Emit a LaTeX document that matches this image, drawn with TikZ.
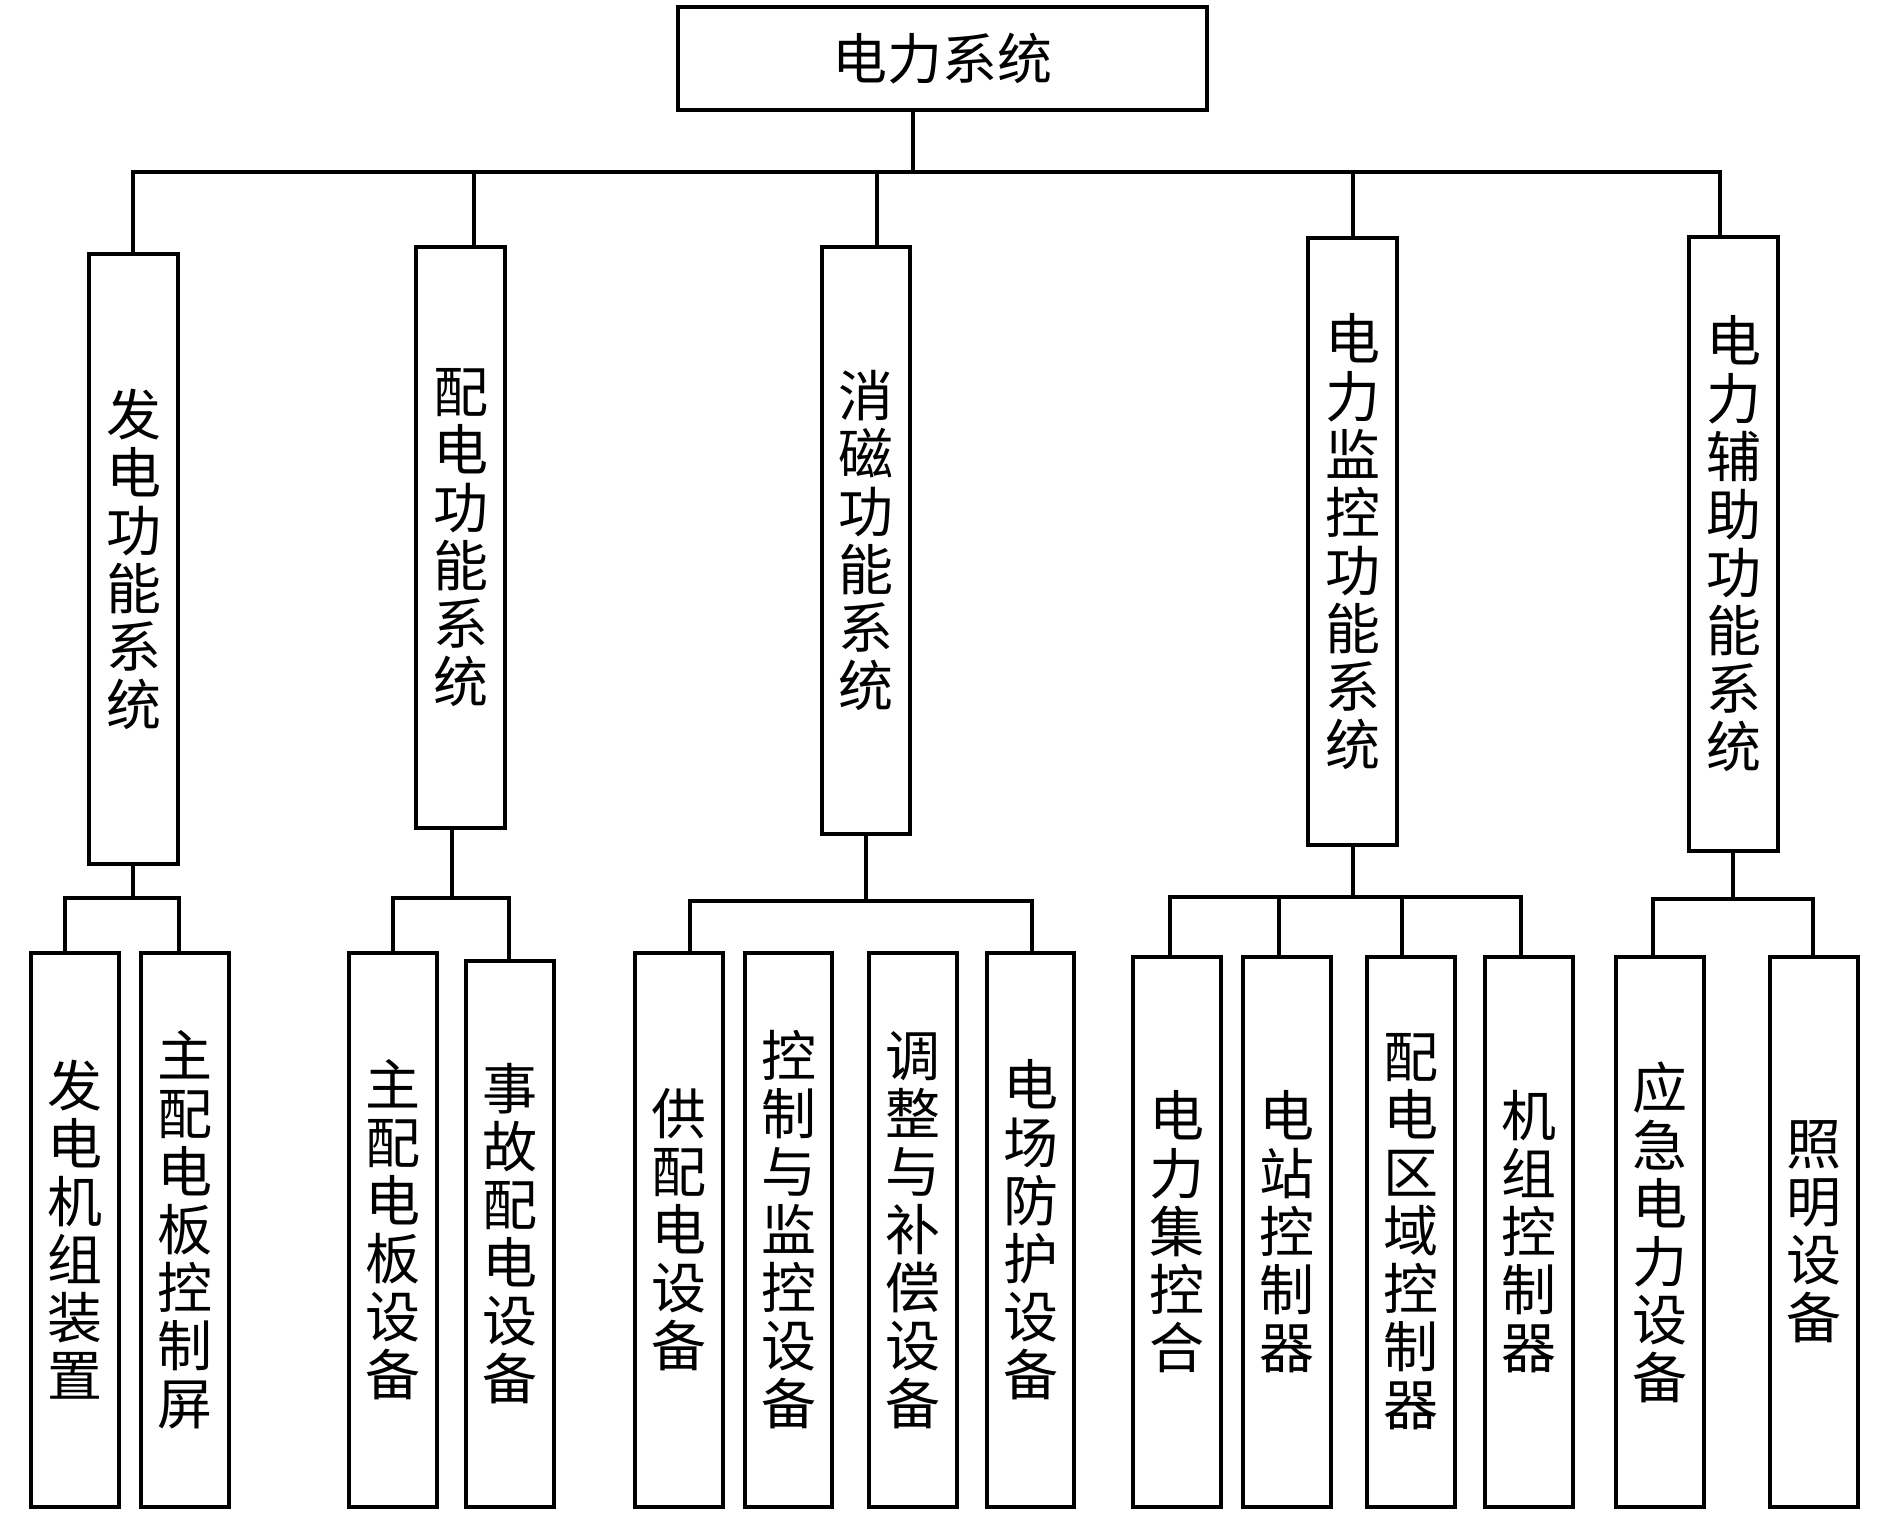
\documentclass[tikz,border=0pt]{standalone}
\usepackage{fontspec}
\newfontfamily\cjk{Noto Sans CJK SC}
\begin{document}
\begin{tikzpicture}[x=1pt,y=-1pt,
  ln/.style={draw=black,line width=3.8pt,line join=miter},
  bx/.style={draw=black,line width=3.8pt,inner sep=0pt,outer sep=0pt,anchor=north west,
     align=center,font=\cjk\fontsize{55}{58}\selectfont},
]
\useasboundingbox (0,0) rectangle (1890,1517);
% top
\node[bx,minimum width=529pt,minimum height=103pt] (top) at (678,7) {电力系统};
% level 2
\node[bx,minimum width=89pt,minimum height=610pt] (b1) at (89,254) {发\\电\\功\\能\\系\\统};
\node[bx,minimum width=89pt,minimum height=581pt] (b2) at (416,247) {配\\电\\功\\能\\系\\统};
\node[bx,minimum width=88pt,minimum height=587pt] (b3) at (822,247) {消\\磁\\功\\能\\系\\统};
\node[bx,minimum width=89pt,minimum height=607pt] (b4) at (1308,238) {电\\力\\监\\控\\功\\能\\系\\统};
\node[bx,minimum width=89pt,minimum height=614pt] (b5) at (1689,237) {电\\力\\辅\\助\\功\\能\\系\\统};
% level 3
\node[bx,minimum width=88pt,minimum height=554pt] (g1a) at (31,953) {发\\电\\机\\组\\装\\置};
\node[bx,minimum width=88pt,minimum height=554pt] (g1b) at (141,953) {主\\配\\电\\板\\控\\制\\屏};
\node[bx,minimum width=88pt,minimum height=554pt] (g2a) at (349,953) {主\\配\\电\\板\\设\\备};
\node[bx,minimum width=88pt,minimum height=546pt] (g2b) at (466,961) {事\\故\\配\\电\\设\\备};
\node[bx,minimum width=88pt,minimum height=554pt] (g3a) at (635,953) {供\\配\\电\\设\\备};
\node[bx,minimum width=87pt,minimum height=554pt] (g3b) at (745,953) {控\\制\\与\\监\\控\\设\\备};
\node[bx,minimum width=88pt,minimum height=554pt] (g3c) at (869,953) {调\\整\\与\\补\\偿\\设\\备};
\node[bx,minimum width=87pt,minimum height=554pt] (g3d) at (987,953) {电\\场\\防\\护\\设\\备};
\node[bx,minimum width=88pt,minimum height=550pt] (g4a) at (1133,957) {电\\力\\集\\控\\合};
\node[bx,minimum width=88pt,minimum height=550pt] (g4b) at (1243,957) {电\\站\\控\\制\\器};
\node[bx,minimum width=88pt,minimum height=550pt] (g4c) at (1367,957) {配\\电\\区\\域\\控\\制\\器};
\node[bx,minimum width=88pt,minimum height=550pt] (g4d) at (1485,957) {机\\组\\控\\制\\器};
\node[bx,minimum width=88pt,minimum height=550pt] (g5a) at (1616,957) {应\\急\\电\\力\\设\\备};
\node[bx,minimum width=88pt,minimum height=550pt] (g5b) at (1770,957) {照\\明\\设\\备};
% top bus
\coordinate (tj) at (913,172);
\coordinate (s1) at (133,172);
\coordinate (s2) at (474,172);
\coordinate (s3) at (877,172);
\coordinate (s4) at (1353,172);
\coordinate (s5) at (1720,172);
\draw[ln] (top.south -| tj) -- (tj);
\draw[ln] (b1.north -| s1) -- (s1) -- (s5) -- (b5.north -| s5);
\draw[ln] (s2) -- (b2.north -| s2);
\draw[ln] (s3) -- (b3.north -| s3);
\draw[ln] (s4) -- (b4.north -| s4);
% group 1
\coordinate (p1) at (133,898);
\coordinate (l1) at (65,898);
\coordinate (r1) at (179,898);
\draw[ln] (b1.south -| p1) -- (p1);
\draw[ln] (g1a.north -| l1) -- (l1) -- (r1) -- (g1b.north -| r1);
% group 2
\coordinate (p2) at (452,898);
\coordinate (l2) at (393,898);
\coordinate (r2) at (509,898);
\draw[ln] (b2.south -| p2) -- (p2);
\draw[ln] (g2a.north -| l2) -- (l2) -- (r2) -- (g2b.north -| r2);
% group 3
\coordinate (p3) at (866,901);
\coordinate (l3) at (690,901);
\coordinate (r3) at (1032,901);
\draw[ln] (b3.south -| p3) -- (p3);
\draw[ln] (g3a.north -| l3) -- (l3) -- (r3) -- (g3d.north -| r3);
% group 4
\coordinate (p4) at (1353,897);
\coordinate (l4) at (1170,897);
\coordinate (m4a) at (1279,897);
\coordinate (m4b) at (1402,897);
\coordinate (r4) at (1521,897);
\draw[ln] (b4.south -| p4) -- (p4);
\draw[ln] (g4a.north -| l4) -- (l4) -- (r4) -- (g4d.north -| r4);
\draw[ln] (m4a) -- (g4b.north -| m4a);
\draw[ln] (m4b) -- (g4c.north -| m4b);
% group 5
\coordinate (p5) at (1733,899);
\coordinate (l5) at (1653,899);
\coordinate (r5) at (1813,899);
\draw[ln] (b5.south -| p5) -- (p5);
\draw[ln] (g5a.north -| l5) -- (l5) -- (r5) -- (g5b.north -| r5);
\end{tikzpicture}
\end{document}
